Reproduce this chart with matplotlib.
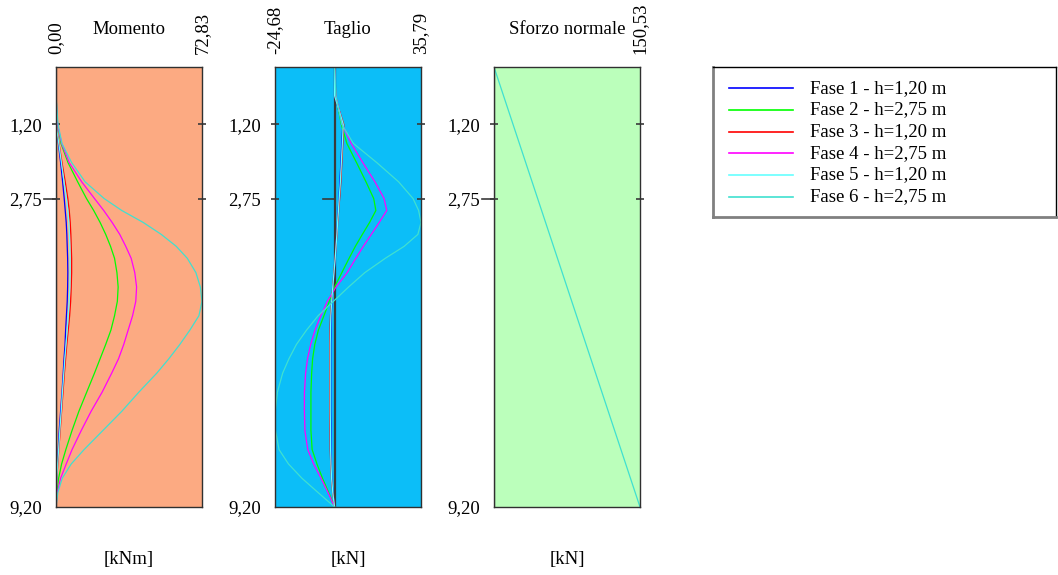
import matplotlib
matplotlib.use('Agg')
import matplotlib.pyplot as plt

plt.rcParams['font.family'] = ['Liberation Serif', 'DejaVu Serif']
plt.rcParams['font.size'] = 13.5

# profondita' (m)
depth = [0, 0.6, 1.2, 1.6, 2.0, 2.4, 2.75, 3.0, 3.25, 3.5, 3.75, 4.0, 4.3, 4.6,
         4.9, 5.2, 5.5, 5.8, 6.1, 6.4, 6.8, 7.2, 7.6, 8.0, 8.3, 8.6, 8.9, 9.2]

phases = ['Fase 1 - h=1,20 m', 'Fase 2 - h=2,75 m', 'Fase 3 - h=1,20 m',
          'Fase 4 - h=2,75 m', 'Fase 5 - h=1,20 m', 'Fase 6 - h=2,75 m']
colors = ['#0000FF', '#00FF00', '#FF0000', '#FF00FF', '#66FFFF', '#40E0D0']

# Momento [kNm]
mom_f1 = [0, 0, 0, 1.2, 2.3, 3.3, 4.1, 4.6, 5.1, 5.4, 5.6, 5.8, 5.9, 5.8,
          5.6, 5.2, 4.8, 4.5, 4.0, 3.6, 3.0, 2.3, 1.6, 1.1, 0.7, 0.3, 0.1, 0]
mom_f2 = [0, 0, 0.8, 2.5, 6.0, 10.8, 15.2, 18.8, 22.0, 24.8, 27.2, 29.2, 30.4, 31.0,
          30.6, 29.2, 27.4, 24.8, 22.0, 19.2, 15.3, 11.4, 8.0, 4.9, 2.8, 1.3, 0.4, 0]
mom_f3 = [0, 0, 0, 1.5, 3.0, 4.6, 5.9, 6.6, 7.1, 7.4, 7.6, 7.8, 7.8, 7.6,
          7.3, 6.8, 6.1, 5.4, 4.8, 4.2, 3.5, 2.8, 2.1, 1.4, 0.9, 0.4, 0.1, 0]
mom_f4 = [0, 0, 0.8, 2.8, 6.6, 12.8, 19.2, 23.8, 28.0, 31.8, 34.8, 37.5, 39.3, 40.2,
          39.8, 38.2, 36.0, 33.8, 31.2, 27.8, 23.0, 17.5, 12.6, 8.0, 5.1, 2.3, 0.6, 0]
mom_f5 = [0, 0, 0, 1.4, 2.7, 4.0, 5.2, 5.9, 6.4, 6.7, 6.9, 7.0, 7.0, 6.9,
          6.6, 6.1, 5.6, 5.0, 4.4, 3.9, 3.2, 2.6, 1.9, 1.3, 0.8, 0.4, 0.1, 0]
mom_f6 = [0, 0, 1.0, 3.0, 7.8, 14.5, 24.0, 32.8, 43.5, 52.5, 60.0, 65.5, 69.8, 72.0,
          72.83, 71.3, 66.8, 61.8, 56.3, 50.3, 41.3, 32.8, 23.4, 14.0, 7.6, 3.1, 0.9, 0]

# Taglio [kN]
tag_f1 = [0, 0, 3.4, 3.0, 2.6, 2.2, 1.8, 1.5, 1.2, 0.9, 0.6, 0.3, -0.2, -0.7,
          -1.1, -1.4, -1.5, -1.6, -1.6, -1.6, -1.6, -1.6, -1.5, -1.5, -1.4, -1.2, -0.7, 0]
tag_f2 = [0, 0.5, 2.8, 5.1, 9.1, 13.0, 16.2, 17.1, 14.5, 11.5, 8.6, 6.0, 3.0, 0,
          -2.2, -4.4, -6.7, -8.2, -9.1, -9.5, -9.8, -9.8, -9.8, -9.3, -7.3, -5.0, -2.4, 0]
tag_f3 = [0, 0, 3.8, 3.4, 3.0, 2.6, 2.1, 1.7, 1.3, 1.0, 0.6, 0.2, -0.3, -0.8,
          -1.3, -1.7, -1.9, -2.0, -2.0, -2.0, -2.0, -2.0, -1.9, -1.8, -1.6, -1.3, -0.8, 0]
tag_f4 = [0, 0.5, 3.2, 6.9, 11.7, 16.7, 20.5, 21.6, 18.5, 15.2, 11.9, 8.8, 5.2, 0.6,
          -3.0, -5.7, -8.1, -9.9, -11.2, -12.0, -12.5, -12.5, -12.3, -11.1, -8.7, -5.6, -2.7, 0]
tag_f5 = [0, 0, 3.6, 3.2, 2.8, 2.4, 1.9, 1.6, 1.25, 0.95, 0.6, 0.25, -0.25, -0.75,
          -1.2, -1.55, -1.7, -1.8, -1.8, -1.8, -1.8, -1.8, -1.7, -1.65, -1.5, -1.25, -0.75, 0]
tag_f6 = [0, 0.5, 3.0, 7.8, 17.5, 26.5, 32.5, 34.8, 35.79, 34.5, 28.8, 21.0, 12.5, 5.8,
          -0.5, -6.8, -11.6, -15.8, -18.9, -21.5, -23.7, -24.6, -24.5, -23.0, -19.1, -13.5, -6.8, 0]

# Sforzo normale [kN]
sn_depth = [0, 9.2]
sn_vals = [0, 150.53]

yticks = [1.20, 2.75, 9.20]
ytick_labels = ['1,20', '2,75', '9,20']

panels = [
    dict(title='Momento', unit='[kNm]', lim=(0, 72.83), lims_txt=('0,00', '72,83'),
         bg='#FCAA82', series=[(depth, v) for v in [mom_f1, mom_f2, mom_f3, mom_f4, mom_f5, mom_f6]]),
    dict(title='Taglio', unit='[kN]', lim=(-24.68, 35.79), lims_txt=('-24,68', '35,79'),
         bg='#0CBEF8', series=[(depth, v) for v in [tag_f1, tag_f2, tag_f3, tag_f4, tag_f5, tag_f6]]),
    dict(title='Sforzo normale', unit='[kN]', lim=(0, 150.53), lims_txt=(None, '150,53'),
         bg='#BBFFBB', series=[(sn_depth, sn_vals)]),
]

W, H = 1058, 575
fig = plt.figure(figsize=(W / 100, H / 100), dpi=100)

lefts = [56, 275, 494]
for left, p in zip(lefts, panels):
    ax = fig.add_axes([left / W, (H - 507) / H, 146 / W, 440 / H])
    ax.set_facecolor(p['bg'])
    xmin, xmax = p['lim']
    ax.set_xlim(xmin, xmax)
    ax.set_ylim(9.2, 0)
    # linea dello zero
    ax.axvline(0, color='#3a3a3a', lw=1.6, zorder=1)
    cols = colors if len(p['series']) > 1 else colors[-1:]
    for (z, v), c in zip(p['series'], cols):
        ax.plot(v, z, color=c, lw=0.9, zorder=2)
    # tacca a 2,75
    w = 0.08 * (xmax - xmin)
    ax.plot([-w, 0], [2.75, 2.75], color='#3a3a3a', lw=1.2, clip_on=False, zorder=3)

    ax.set_xticks([])
    ax.set_yticks(yticks)
    ax.set_yticklabels(ytick_labels)
    ax.tick_params(axis='y', left=True, right=True, direction='inout', length=6,
                   width=1.2, color='#3a3a3a', pad=7, labelsize=13.5)
    last = ax.yaxis.get_major_ticks()[-1]
    last.tick1line.set_visible(False)
    last.tick2line.set_visible(False)
    for s in ax.spines.values():
        s.set_color('#303030')
        s.set_linewidth(1.0)

    ax.set_title(p['title'], pad=24, fontsize=13.5)
    lo, hi = p['lims_txt']
    if lo:
        ax.annotate(lo, xy=(0, 1), xycoords='axes fraction', xytext=(0, 9),
                    textcoords='offset points', rotation=90, ha='center', va='bottom')
    ax.annotate(hi, xy=(1, 1), xycoords='axes fraction', xytext=(0, 9),
                textcoords='offset points', rotation=90, ha='center', va='bottom')
    ax.text(0.5, -0.12, p['unit'], transform=ax.transAxes, ha='center', va='center')

# legenda
lax = fig.add_axes([713 / W, (H - 217) / H, 343 / W, 150 / H])
lax.set_xticks([])
lax.set_yticks([])
lax.set_xlim(0, 1)
lax.set_ylim(0, 1)
for side in ['left', 'bottom']:
    lax.spines[side].set_color('#808080')
    lax.spines[side].set_linewidth(2)
for side in ['top', 'right']:
    lax.spines[side].set_color('#000000')
    lax.spines[side].set_linewidth(1)
for i, (name, c) in enumerate(zip(phases, colors)):
    y = 0.858 - i * 0.1445
    lax.plot([0.047, 0.233], [y, y], color=c, lw=1.2)
    lax.text(0.283, y, name, va='center', ha='left', fontsize=13.5)

fig.savefig('out.png', dpi=100)
